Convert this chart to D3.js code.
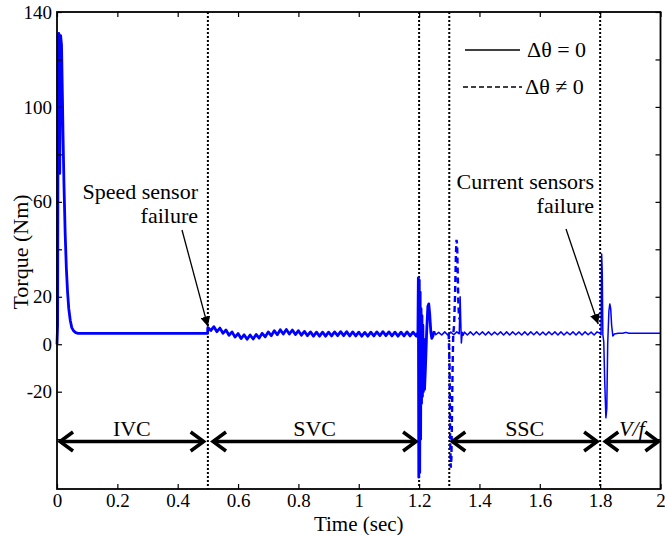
<!DOCTYPE html>
<html><head><meta charset="utf-8">
<script src="https://cdn.jsdelivr.net/npm/d3@7"></script>
<style>
body{margin:0;background:#fff}
svg{display:block}
text{font-family:"Liberation Serif","Times New Roman",serif;fill:#000}
</style>
</head><body>
<svg id="chart" width="665" height="535"></svg>
<script>
// ---------------- data ----------------
const xTickValues = [0,0.2,0.4,0.6,0.8,1,1.2,1.4,1.6,1.8,2];
const xTickLabels = ["0","0.2","0.4","0.6","0.8","1","1.2","1.4","1.6","1.8","2"];
const yTickValues = [-40,-20,0,20,40,60,80,100,120,140];
const yLabelledTicks = [140,100,60,20,0,-20];

// start-up (IVC)
const startT = [0,0.002,0.004,0.006,0.009,0.012,0.015,0.018,0.020,0.023,0.027,0.031,0.035,0.039,0.044,0.049,0.055,0.062,0.070,0.499];
const startV = [0,8,130,131,72,130,126,104,88,68,47,32,22,15,10,7,5.6,4.9,4.6,4.6];

// SVC region, sampled every 0.01 s from 0.50 s
const svcStart = 0.50, svcStep = 0.01;
const svcV = [7.0,5.8,7.4,5.3,6.8,4.6,6.0,3.8,5.2,3.0,
              4.5,2.4,4.0,2.1,3.9,2.2,4.1,2.6,4.6,3.1,
              5.2,3.6,5.7,4.0,6.1,4.3,6.2,4.3,6.0,4.1,
              5.7,3.8,5.4,3.6,5.2,3.4,5.1,3.4,5.1,3.4,
              5.1,3.5,5.2,3.6,5.3,3.6,5.3,3.5,5.2,3.5,
              5.1,3.4,5.0,3.4,5.1,3.5,5.2,3.6,5.3,3.6,
              5.2,3.5,5.1,3.4,5.1,3.5,5.2,3.5,5.1,3.5];

// transient at the speed-sensor -> SSC switch (1.2 s)
const tr12T = [1.194,1.196,1.1975,1.199,1.2005,1.202,1.2035,1.205,1.2065,1.208,1.2095,1.211,1.2125,1.214,1.216,1.218,1.221,1.225,1.229,1.232,1.235,1.239,1.242,1.246,1.250,1.255,1.265,1.275,1.285,1.295,1.305,1.315,1.325,1.333,1.336,1.338,1.340,1.343,1.346];
const tr12V = [4.5,3,28,-56,27,-54,22,-40,15,-25,12,-22,8,-20,2,-19,-10,5,16,17,13,5,2.5,3.5,5.5,4.0,5.0,3.9,5.2,3.9,5.1,4.0,5.2,4.4,20,10,0.5,5,3.8];

// SSC region ripple, every 0.01 s from 1.35 s
const sscStart = 1.35, sscStep = 0.01;
const sscV = [5.1,3.9,5.2,3.9,5.2,4.0,5.2,3.9,5.2,3.9,
              5.1,4.0,5.2,3.9,5.2,3.9,5.2,4.0,5.1,3.9,
              5.2,3.9,5.2,4.0,5.2,3.9,5.1,3.9,5.2,4.0,
              5.2,3.9,5.2,3.9,5.1,4.0,5.2,3.9,5.2,3.9,
              5.2,4.0,5.1,3.9,5.2];

// transient at current-sensor failure (1.8 s) and V/f region
const tr18T = [1.800,1.803,1.805,1.807,1.809,1.812,1.815,1.819,1.822,1.825,1.829,1.832,1.835,1.838,1.842,1.847,1.860,1.875,1.885,1.895,1.910,2.0];
const tr18V = [4.6,4.0,38,30,4,1,-15,-31,-27,0,14,17,15,8,3.5,4.3,4.6,4.6,5.0,4.6,4.6,4.6];

// Δθ ≠ 0 case (dashed)
const dashT = [1.298,1.301,1.303,1.305,1.307,1.309,1.311,1.313,1.316,1.319,1.322,1.324,1.326,1.328,1.330,1.332,1.334];
const dashV = [4.6,-10,-40,-52,-48,-30,-10,4,8,20,38,44,42,30,18,12,10.5];

// switching instants (dotted lines)
const switchTimes = [0.5,1.2,1.3,1.8];

// operating-mode arrows
const modeLabels = ["IVC","SVC","SSC","V/f"];
const modeFrom   = [0.01,0.517,1.31,1.817];
const modeTo     = [0.486,1.19,1.79,1.993];
const modeLevel  = -41;

// legend
const legendLabels = ["\u0394\u03B8 = 0","\u0394\u03B8 \u2260 0"];

// ---------------- build series ----------------
const solid = [];
startT.forEach((t,i)=>solid.push({t, v:startV[i]}));
svcV.forEach((v,i)=>solid.push({t: svcStart + i*svcStep, v}));
tr12T.forEach((t,i)=>solid.push({t, v:tr12V[i]}));
sscV.forEach((v,i)=>solid.push({t: sscStart + i*sscStep, v}));
tr18T.forEach((t,i)=>solid.push({t, v:tr18V[i]}));
const dashed = dashT.map((t,i)=>({t, v:dashV[i]}));

// ---------------- chart ----------------
const svg = d3.select("#chart");
const L = 57, R = 660.5, T = 12, B = 489;
const x = d3.scaleLinear().domain([0,2]).range([L,R]);
const y = d3.scaleLinear().domain([-61,140]).range([B,T]);

const line = d3.line().x(d=>x(d.t)).y(d=>y(d.v));

// dotted switching lines
svg.append("g").selectAll("line").data(switchTimes).join("line")
  .attr("x1",d=>x(d)).attr("x2",d=>x(d)).attr("y1",T).attr("y2",B)
  .attr("stroke","#000").attr("stroke-width",2).attr("stroke-dasharray","2,2");

// series
svg.append("path").datum(solid.filter(d=>d.t<=1.25))
  .attr("d",line).attr("fill","none").attr("stroke","#0000ff").attr("stroke-width",2.8).attr("stroke-linejoin","round");
svg.append("path").datum(solid.filter(d=>d.t>=1.25))
  .attr("d",line).attr("fill","none").attr("stroke","#0000ff").attr("stroke-width",1.5).attr("stroke-linejoin","round");
svg.append("path").datum(dashed)
  .attr("d",line).attr("fill","none").attr("stroke","#0000ff").attr("stroke-width",2.4).attr("stroke-dasharray","6,4");

// axes
const fmtX = (d)=>xTickLabels[xTickValues.indexOf(d)];
const gx = svg.append("g").attr("transform",`translate(0,${B})`)
  .call(d3.axisBottom(x).tickValues(xTickValues).tickFormat(fmtX).tickSizeInner(-5).tickSizeOuter(0).tickPadding(5));
const gxt = svg.append("g").attr("transform",`translate(0,${T})`)
  .call(d3.axisTop(x).tickValues(xTickValues).tickFormat("").tickSizeInner(-5).tickSizeOuter(0));
const gy = svg.append("g").attr("transform",`translate(${L},0)`)
  .call(d3.axisLeft(y).tickValues(yTickValues).tickFormat(d=>yLabelledTicks.includes(d)?String(d):"").tickSizeInner(-5).tickSizeOuter(0).tickPadding(5));
const gyr = svg.append("g").attr("transform",`translate(${R},0)`)
  .call(d3.axisRight(y).tickValues(yTickValues).tickFormat("").tickSizeInner(-5).tickSizeOuter(0));
[gx,gxt,gy,gyr].forEach(g=>{
  g.attr("font-family",null);
  g.select(".domain").remove();
  g.selectAll(".tick line").attr("stroke","#000").attr("stroke-width",1.2);
  g.selectAll("text").attr("font-size",19).attr("fill","#000");
});
svg.append("rect").attr("x",L).attr("y",T).attr("width",R-L).attr("height",B-T)
  .attr("fill","none").attr("stroke","#000").attr("stroke-width",1.8);

// axis titles
svg.append("text").attr("x",(L+R)/2).attr("y",531).attr("text-anchor","middle").attr("font-size",21).text("Time (sec)");
svg.append("text").attr("transform","translate(28,252) rotate(-90)").attr("text-anchor","middle").attr("font-size",22).text("Torque (Nm)");

// mode arrows
const ay = y(modeLevel);
const ah = 13, aw = 9.5;
const ga = svg.append("g").attr("stroke","#000").attr("stroke-width",3.5).attr("fill","none");
modeLabels.forEach((lab,i)=>{
  const x1 = x(modeFrom[i]), x2 = x(modeTo[i]);
  ga.append("line").attr("x1",x1).attr("x2",x2).attr("y1",ay).attr("y2",ay);
  ga.append("polyline").attr("points",`${x1+ah},${ay-aw} ${x1},${ay} ${x1+ah},${ay+aw}`);
  ga.append("polyline").attr("points",`${x2-ah},${ay-aw} ${x2},${ay} ${x2-ah},${ay+aw}`);
  svg.append("text").attr("x",(x1+x2)/2).attr("y",ay-6).attr("text-anchor","middle")
    .attr("font-size",22).attr("font-style",lab==="V/f"?"italic":"normal").text(lab);
});

// legend
const lg = svg.append("g");
lg.append("line").attr("x1",465).attr("x2",520).attr("y1",50).attr("y2",50).attr("stroke","#000").attr("stroke-width",1.6);
lg.append("line").attr("x1",463).attr("x2",522).attr("y1",87).attr("y2",87).attr("stroke","#000").attr("stroke-width",1.6).attr("stroke-dasharray","5,3");
lg.append("text").attr("x",527).attr("y",57).attr("font-size",22).text(legendLabels[0]);
lg.append("text").attr("x",525).attr("y",94).attr("font-size",22).text(legendLabels[1]);

// annotations
svg.append("defs").append("marker").attr("id","ah").attr("viewBox","0 0 10 10").attr("refX",10).attr("refY",5)
  .attr("markerWidth",10).attr("markerHeight",10).attr("markerUnits","userSpaceOnUse").attr("orient","auto")
  .append("path").attr("d","M0,0 L10,5 L0,10 Z").attr("fill","#000");
function note(lines, xr, y0, from, to){
  lines.forEach((s,i)=>svg.append("text").attr("x",xr).attr("y",y0+i*24).attr("text-anchor","end").attr("font-size",22).text(s));
  svg.append("line").attr("x1",from[0]).attr("y1",from[1]).attr("x2",to[0]).attr("y2",to[1])
    .attr("stroke","#000").attr("stroke-width",1.3).attr("marker-end","url(#ah)");
}
note(["Speed sensor","failure"], 198, 199, [182,230], [x(0.5),y(7.5)]);
note(["Current sensors","failure"], 594, 189, [566,229], [x(1.8)-2,y(8.5)]);
</script>
</body></html>
